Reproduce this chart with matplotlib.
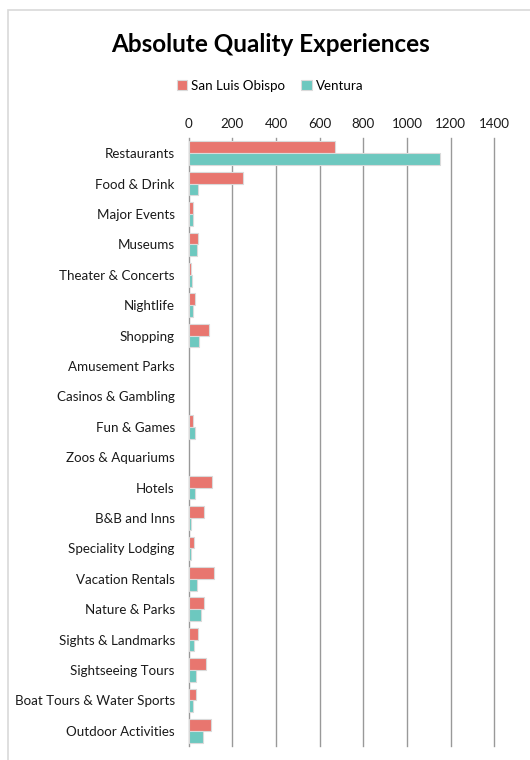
import numpy as np
import matplotlib.pyplot as plt
from matplotlib.patches import Rectangle

plt.rcParams["font.family"] = ["Lato", "DejaVu Sans"]

categories = [
    "Restaurants", "Food & Drink", "Major Events", "Museums",
    "Theater & Concerts", "Nightlife", "Shopping", "Amusement Parks",
    "Casinos & Gambling", "Fun & Games", "Zoos & Aquariums", "Hotels",
    "B&B and Inns", "Speciality Lodging", "Vacation Rentals",
    "Nature & Parks", "Sights & Landmarks", "Sightseeing Tours",
    "Boat Tours & Water Sports", "Outdoor Activities",
]
san_luis_obispo = [670, 251, 20, 41, 11, 29, 91, 0, 0, 18, 0, 105,
                   68, 24, 115, 68, 41, 77, 35, 100]
ventura = [1152, 41, 18, 36, 14, 18, 45, 0, 0, 27, 0, 27,
           9, 9, 36, 55, 23, 32, 18, 64]
x_ticks = [0, 200, 400, 600, 800, 1000, 1200, 1400]

SLO_COLOR = "#E8766F"
VEN_COLOR = "#6DC8BF"


def edges(values):
    # pas de contour pour les barres nulles
    return ["#DADADA" if v > 0 else "none" for v in values]


fig = plt.figure(figsize=(5.3, 7.6), dpi=100)
fig.patches.append(Rectangle((8 / 530, -0.1), 1.2, 1 - 10 / 760 + 0.1,
                             transform=fig.transFigure, fill=False,
                             edgecolor="#D9D9D9", linewidth=1.2))

ax = fig.add_axes([188.7 / 530, 1 - 746 / 760, 305.6 / 530, 608 / 760])

y = np.arange(len(categories))
h = 0.39
ax.barh(y - h / 2, san_luis_obispo, height=h, color=SLO_COLOR,
        edgecolor=edges(san_luis_obispo), linewidth=0.8,
        label="San Luis Obispo", zorder=3)
ax.barh(y + h / 2, ventura, height=h, color=VEN_COLOR,
        edgecolor=edges(ventura), linewidth=0.8, label="Ventura", zorder=3)

ax.set_ylim(len(categories) - 0.5, -0.5)
ax.set_xlim(0, 1400)
ax.set_xticks(x_ticks)
ax.set_yticks(y)
ax.set_yticklabels(categories)
ax.xaxis.tick_top()
ax.tick_params(axis="both", length=0, labelsize=9.6, colors="#1a1a1a")
ax.tick_params(axis="y", pad=10)
ax.tick_params(axis="x", pad=6)
ax.grid(axis="x", color="#999999", linewidth=1, zorder=0)
for line in ax.get_xgridlines():
    line.set_clip_on(False)
for s in ax.spines.values():
    s.set_visible(False)

fig.text(0.51, 1 - 44 / 760, "Absolute Quality Experiences", ha="center",
         va="center", fontsize=17.5, fontweight="bold")
fig.legend(loc="center", bbox_to_anchor=(0.51, 1 - 86 / 760), ncol=2,
           frameon=False, fontsize=9.6, handlelength=0.8, handleheight=0.8,
           handletextpad=0.3, columnspacing=1.2)

fig.savefig("out.png", dpi=100)
